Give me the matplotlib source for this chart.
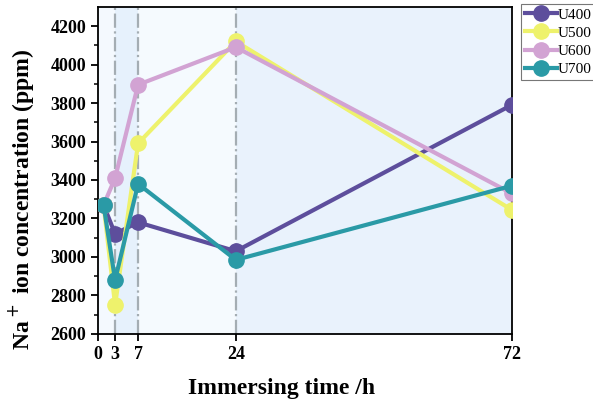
import matplotlib.pyplot as plt
import numpy as np

plt.rcParams["font.family"] = ["Liberation Serif", "DejaVu Serif"]

hours = [1, 3, 7, 24, 72]
tick_hours = [0, 3, 7, 24, 72]
marks = [3, 7, 24]

u400 = [3270, 3120, 3180, 3030, 3790]
u500 = [3270, 2750, 3590, 4120, 3245]
u600 = [3270, 3410, 3895, 4090, 3330]
u700 = [3270, 2880, 3380, 2985, 3370]

labels = ["U400", "U500", "U600", "U700"]
colors = ["#5d4e9c", "#eef26c", "#d2a3d3", "#2a9aa6"]


def main():
    fig = plt.figure(figsize=(5.93, 3.99), dpi=100)
    ax = fig.add_axes([0.165, 0.163, 0.698, 0.82])

    # shaded bands between the marked times
    bands = [(0, 3, "#f4f9fe"), (3, 7, "#e6f1fc"), (7, 24, "#f5fafe"), (24, 72, "#e9f2fc")]
    for x0, x1, c in bands:
        ax.axvspan(x0, x1, color=c, zorder=0, lw=0)
    for x in marks:
        ax.axvline(x, color="#a4adb3", lw=1.6, ls="-.", zorder=1)

    for vals, lab, c in zip([u400, u500, u600, u700], labels, colors):
        ax.plot(hours, vals, "-o", color=c, lw=3, ms=11, mec=c, mfc=c,
                label=lab, zorder=3)

    ax.set_xlim(0, 72)
    ax.set_ylim(2600, 4300)
    ax.set_xticks(tick_hours)
    ax.set_yticks(np.arange(2600, 4201, 200))
    ax.set_yticks(np.arange(2700, 4300, 200), minor=True)
    ax.tick_params(axis="both", which="major", direction="out", length=5,
                   width=1.3, labelsize=13)
    ax.tick_params(axis="y", which="minor", direction="out", length=3, width=1.1)
    for lab in ax.get_xticklabels() + ax.get_yticklabels():
        lab.set_fontweight("bold")
    for sp in ax.spines.values():
        sp.set_linewidth(1.3)

    ax.set_xlabel("Immersing time /h", fontsize=17, fontweight="bold")
    ax.xaxis.set_label_coords(0.445, -0.135)
    ax.set_ylabel("Na$^+$ ion concentration (ppm)", fontsize=17, fontweight="bold")
    ax.yaxis.set_label_coords(-0.15, 0.41)

    leg = fig.legend(loc="upper left", bbox_to_anchor=(0.879, 0.99), fontsize=11,
                     frameon=True, fancybox=False, edgecolor="#555555",
                     handlelength=2.1, handletextpad=0.05, borderpad=0.25,
                     labelspacing=0.3, borderaxespad=0)
    leg.get_frame().set_linewidth(0.8)

    fig.savefig("out.png", dpi=100)


if __name__ == "__main__":
    main()
